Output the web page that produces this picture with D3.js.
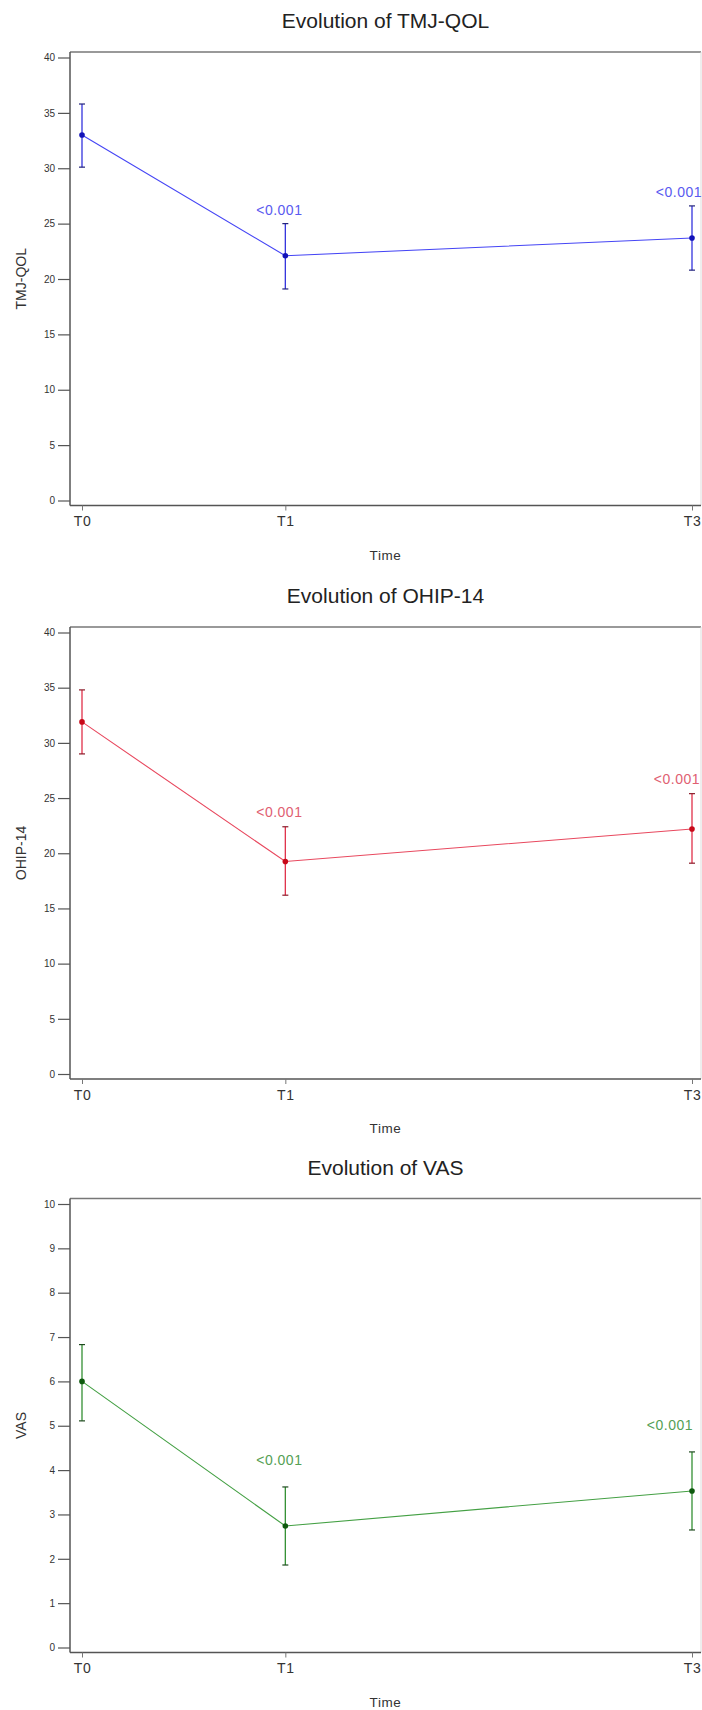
<!DOCTYPE html>
<html>
<head>
<meta charset="utf-8">
<script src="https://cdn.jsdelivr.net/npm/d3@7"></script>
<style>
  body { margin: 0; background: #fff; }
  svg { display: block; font-family: "Liberation Sans", Arial, sans-serif; }
</style>
</head>
<body>
<div id="chart"></div>
<script>
// time points (months) and their labels
const timePoints = [0, 1, 3];
const timeLabels = ["T0", "T1", "T3"];

// TMJ-QOL
const tmjMean  = [33.0, 22.1, 23.7];
const tmjLower = [30.1, 19.1, 20.8];
const tmjUpper = [35.8, 25.0, 26.6];

// OHIP-14
const ohipMean  = [31.9, 19.25, 22.2];
const ohipLower = [29.0, 16.2, 19.1];
const ohipUpper = [34.8, 22.4, 25.4];

// VAS
const vasMean  = [6.0, 2.74, 3.53];
const vasLower = [5.11, 1.86, 2.65];
const vasUpper = [6.83, 3.62, 4.41];

// p-values vs T0
const pLabels = ["", "<0.001", "<0.001"];

const W = 702, H = 1710;
const left = 70, right = 701;

const panels = [
  { name: "TMJ-QOL", mean: tmjMean, lower: tmjLower, upper: tmjUpper, max: 40, step: 5,
    top: 52, bottom: 505.5, line: "#4545f5", bar: "#3333dd", cap: "#22227a", dot: "#1212b8", txt: "#5a5af0",
    labOff: 14, lastDx: 10 },
  { name: "OHIP-14", mean: ohipMean, lower: ohipLower, upper: ohipUpper, max: 40, step: 5,
    top: 627, bottom: 1079, line: "#e8485e", bar: "#e0304a", cap: "#8a1a28", dot: "#c80818", txt: "#e06072",
    labOff: 15, lastDx: 8 },
  { name: "VAS", mean: vasMean, lower: vasLower, upper: vasUpper, max: 10, step: 1,
    top: 1198.5, bottom: 1652.5, line: "#44a044", bar: "#339033", cap: "#1e4a1e", dot: "#0e5a0e", txt: "#55a055",
    labOff: 27, lastDx: 1 }
];

const svg = d3.select("#chart").append("svg")
  .attr("width", W).attr("height", H);

const x = d3.scaleLinear().domain([0, 3]).range([82, 692]);

panels.forEach(function(p) {
  const g = svg.append("g");
  const y = d3.scaleLinear().domain([0, p.max]).range([p.bottom - 5, p.top + 5.5]);

  // title
  g.append("text")
    .attr("x", (left + right) / 2).attr("y", p.top - 24)
    .attr("text-anchor", "middle")
    .attr("font-size", 21).attr("fill", "#222")
    .text("Evolution of " + p.name);

  // frame
  g.append("line").attr("x1", left).attr("x2", right).attr("y1", p.top).attr("y2", p.top)
    .attr("stroke", "#777").attr("stroke-width", 1.4);
  g.append("line").attr("x1", right).attr("x2", right).attr("y1", p.top).attr("y2", p.bottom)
    .attr("stroke", "#ddd").attr("stroke-width", 1);

  // y axis
  const yAxis = g.append("g")
    .attr("transform", "translate(" + left + ",0)")
    .call(d3.axisLeft(y).ticks(p.max / p.step).tickSize(12).tickPadding(3).tickSizeOuter(0));
  yAxis.select(".domain").attr("d", "M0," + p.top + "V" + p.bottom)
    .attr("stroke", "#555").attr("stroke-width", 1.5);
  yAxis.selectAll(".tick line").attr("stroke", "#555").attr("stroke-width", 1.2);
  yAxis.selectAll(".tick text").attr("font-size", 10).attr("fill", "#333")
    .attr("font-family", "Liberation Sans, Arial, sans-serif");

  // x axis
  const xAxis = g.append("g")
    .attr("transform", "translate(0," + p.bottom + ")")
    .call(d3.axisBottom(x).tickValues(timePoints)
      .tickFormat(function(d, i) { return timeLabels[i]; })
      .tickSize(5).tickPadding(6).tickSizeOuter(0));
  xAxis.select(".domain").attr("d", "M" + left + ",0H" + right)
    .attr("stroke", "#555").attr("stroke-width", 1.5);
  xAxis.selectAll(".tick line").attr("stroke", "#777");
  xAxis.selectAll(".tick text").attr("font-size", 14).attr("fill", "#333")
    .attr("letter-spacing", 0.6)
    .attr("font-family", "Liberation Sans, Arial, sans-serif");

  // axis titles
  g.append("text")
    .attr("x", (left + right) / 2).attr("y", p.bottom + 54)
    .attr("text-anchor", "middle").attr("font-size", 13.5).attr("fill", "#333")
    .attr("letter-spacing", 0.6)
    .text("Time");
  g.append("text")
    .attr("transform", "translate(26," + (p.top + p.bottom) / 2 + ") rotate(-90)")
    .attr("text-anchor", "middle").attr("font-size", 14).attr("fill", "#333")
    .text(p.name);

  const pts = timePoints.map(function(t, i) {
    return { t: t, m: p.mean[i], lo: p.lower[i], hi: p.upper[i], lab: pLabels[i] };
  });

  // mean line
  g.append("path").datum(pts)
    .attr("fill", "none").attr("stroke", p.line).attr("stroke-width", 1.1)
    .attr("d", d3.line().x(function(d) { return x(d.t); }).y(function(d) { return y(d.m); }));

  // error bars
  const eb = g.selectAll(".eb").data(pts).enter().append("g");
  eb.append("line")
    .attr("x1", function(d) { return x(d.t); }).attr("x2", function(d) { return x(d.t); })
    .attr("y1", function(d) { return y(d.lo); }).attr("y2", function(d) { return y(d.hi); })
    .attr("stroke", p.bar).attr("stroke-width", 1.3);
  ["lo", "hi"].forEach(function(k) {
    eb.append("line")
      .attr("x1", function(d) { return x(d.t) - 3; }).attr("x2", function(d) { return x(d.t) + 3; })
      .attr("y1", function(d) { return y(d[k]); }).attr("y2", function(d) { return y(d[k]); })
      .attr("stroke", p.cap).attr("stroke-width", 1.2);
  });

  // points
  g.selectAll(".pt").data(pts).enter().append("circle")
    .attr("cx", function(d) { return x(d.t); }).attr("cy", function(d) { return y(d.m); })
    .attr("r", 2.8).attr("fill", p.dot);

  // p-value labels
  g.selectAll(".pl").data(pts.filter(function(d) { return d.lab; })).enter().append("text")
    .attr("x", function(d, i, n) { return i === n.length - 1 ? x(d.t) + p.lastDx : x(d.t) - 6; })
    .attr("y", function(d) { return y(d.hi) - p.labOff + 5; })
    .attr("text-anchor", function(d, i, n) { return i === n.length - 1 ? "end" : "middle"; })
    .attr("font-size", 14).attr("fill", p.txt).attr("letter-spacing", 0.5)
    .text(function(d) { return d.lab; });
});
</script>
</body>
</html>
